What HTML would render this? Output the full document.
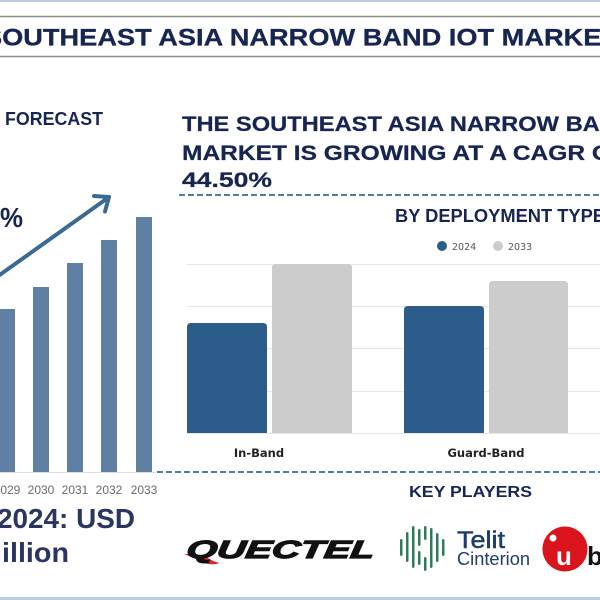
<!DOCTYPE html>
<html>
<head>
<meta charset="utf-8">
<style>
  html, body { margin:0; padding:0; background:#ffffff; }
  svg { display:block; }
</style>
</head>
<body>
<svg width="600" height="600" viewBox="0 0 600 600" xmlns="http://www.w3.org/2000/svg">
  <rect x="0" y="0" width="600" height="600" fill="#ffffff"/>
  <!-- top / bottom accent lines -->
  <rect x="0" y="0" width="600" height="2" fill="#b9cfe1"/>
  <rect x="0" y="597" width="600" height="3" fill="#b9cfe1"/>

  <!-- title box -->
  <line x1="0" y1="16.5" x2="600" y2="16.5" stroke="#8c8c8c" stroke-width="1.5"/>
  <line x1="0" y1="56.5" x2="600" y2="56.5" stroke="#8c8c8c" stroke-width="1.5"/>
  <text x="-16" y="45.5" font-family="Liberation Sans, sans-serif" font-weight="bold" font-size="24.5" fill="#172552" stroke="#172552" stroke-width="0.3" textLength="634" lengthAdjust="spacingAndGlyphs">SOUTHEAST ASIA NARROW BAND IOT MARKET</text>

  <!-- left section -->
  <text x="5" y="125" font-family="Liberation Sans, sans-serif" font-weight="bold" font-size="18" fill="#172552" textLength="98" lengthAdjust="spacingAndGlyphs">FORECAST</text>
  <text x="0" y="227" font-family="Liberation Sans, sans-serif" font-weight="bold" font-size="28" fill="#172552" textLength="23" lengthAdjust="spacingAndGlyphs">%</text>

  <!-- left bars -->
  <g fill="#5f7fa3">
    <rect x="-1" y="309" width="16" height="163"/>
    <rect x="33" y="287" width="16" height="185"/>
    <rect x="67" y="263" width="16" height="209"/>
    <rect x="101" y="240" width="16" height="232"/>
    <rect x="136" y="217" width="16" height="255"/>
  </g>
  <line x1="0" y1="472.5" x2="156" y2="472.5" stroke="#dddddd" stroke-width="1"/>

  <!-- arrow -->
  <g stroke="#3b6a93" stroke-width="4" fill="none" stroke-linecap="round" stroke-linejoin="round">
    <line x1="-6" y1="279" x2="107" y2="198.5"/>
    <polyline points="94,196 109,197 105,211.5"/>
  </g>

  <!-- year labels -->
  <g font-family="Liberation Sans, sans-serif" font-size="12" fill="#6b6b6b" text-anchor="middle">
    <text x="7" y="494">2029</text>
    <text x="41" y="494">2030</text>
    <text x="75" y="494">2031</text>
    <text x="109" y="494">2032</text>
    <text x="144" y="494">2033</text>
  </g>

  <text x="-3" y="528" font-family="Liberation Sans, sans-serif" font-weight="bold" font-size="28" fill="#2a3660" textLength="138" lengthAdjust="spacingAndGlyphs">2024: USD</text>
  <text x="2" y="562" font-family="Liberation Sans, sans-serif" font-weight="bold" font-size="28" fill="#2a3660" textLength="67" lengthAdjust="spacingAndGlyphs">illion</text>

  <!-- headline -->
  <g font-family="Liberation Sans, sans-serif" font-weight="bold" font-size="21" fill="#172552" stroke="#172552" stroke-width="0.25">
    <text x="182" y="131" textLength="498" lengthAdjust="spacingAndGlyphs">THE SOUTHEAST ASIA NARROW BAND IOT</text>
    <text x="182" y="160" textLength="444" lengthAdjust="spacingAndGlyphs">MARKET IS GROWING AT A CAGR OF</text>
    <text x="182" y="187" textLength="90" lengthAdjust="spacingAndGlyphs">44.50%</text>
  </g>

  <!-- dashed separators -->
  <line x1="179" y1="195" x2="600" y2="195" stroke="#4f7ea3" stroke-width="2" stroke-dasharray="6,3"/>
  <line x1="157" y1="472" x2="600" y2="472" stroke="#4f7ea3" stroke-width="2" stroke-dasharray="6,3"/>

  <!-- right chart -->
  <text x="395" y="222" font-family="Liberation Sans, sans-serif" font-weight="bold" font-size="18" fill="#172552" textLength="210" lengthAdjust="spacingAndGlyphs">BY DEPLOYMENT TYPE</text>

  <circle cx="442" cy="246" r="5" fill="#2c5d8a"/>
  <text x="452" y="250" font-family="DejaVu Sans, sans-serif" font-size="9.5" fill="#555555">2024</text>
  <circle cx="498" cy="246" r="5" fill="#cccccc"/>
  <text x="508" y="250" font-family="DejaVu Sans, sans-serif" font-size="9.5" fill="#555555">2033</text>

  <g stroke="#e6e6e6" stroke-width="1">
    <line x1="187" y1="264.5" x2="600" y2="264.5"/>
    <line x1="187" y1="306.5" x2="600" y2="306.5"/>
    <line x1="187" y1="348.5" x2="600" y2="348.5"/>
    <line x1="187" y1="391.5" x2="600" y2="391.5"/>
    <line x1="187" y1="433.5" x2="600" y2="433.5"/>
  </g>

  <path d="M187,433 V327 Q187,323 191,323 H263 Q267,323 267,327 V433 Z" fill="#2c5d8a"/>
  <path d="M272,433 V268 Q272,264 276,264 H348 Q352,264 352,268 V433 Z" fill="#cccccc"/>
  <path d="M404,433 V310 Q404,306 408,306 H480 Q484,306 484,310 V433 Z" fill="#2c5d8a"/>
  <path d="M489,433 V285 Q489,281 493,281 H564 Q568,281 568,285 V433 Z" fill="#cccccc"/>

  <g font-family="DejaVu Sans, sans-serif" font-weight="bold" font-size="11.5" fill="#222222" text-anchor="middle">
    <text x="259" y="457">In-Band</text>
    <text x="486" y="457">Guard-Band</text>
  </g>

  <!-- key players -->
  <text x="409" y="497" font-family="Liberation Sans, sans-serif" font-weight="bold" font-size="16" fill="#172552" textLength="123" lengthAdjust="spacingAndGlyphs">KEY PLAYERS</text>

  <!-- Quectel -->
  <path d="M184,554 Q198,553 208,558 Q214,562 220,563 Q210,566 202,562 Q194,558 184,554 Z" fill="#d62a2a"/>
  <text x="186" y="558" font-family="Liberation Sans, sans-serif" font-weight="bold" font-style="italic" font-size="25" fill="#111111" stroke="#111111" stroke-width="1.2" textLength="188" lengthAdjust="spacingAndGlyphs" transform="skewX(-8) translate(78,0)">QUECTEL</text>

  <!-- Telit logo bars -->
  <g fill="#2e7b5b">
    <rect x="400" y="539" width="2.5" height="17" rx="1.2"/>
    <rect x="406" y="532" width="2.5" height="30" rx="1.2"/>
    <rect x="412" y="526" width="2.5" height="42" rx="1.2"/>
    <rect x="418" y="529" width="2.5" height="17" rx="1.2"/>
    <rect x="418" y="551" width="2.5" height="14" rx="1.2"/>
    <rect x="424" y="526" width="2.5" height="14" rx="1.2"/>
    <rect x="424" y="557" width="2.5" height="14" rx="1.2"/>
    <rect x="430" y="528" width="2.5" height="40" rx="1.2"/>
    <rect x="436" y="533" width="2.5" height="29" rx="1.2"/>
    <rect x="442" y="539" width="2.5" height="17" rx="1.2"/>
  </g>
  <text x="457" y="548" font-family="Liberation Sans, sans-serif" font-size="24" fill="#1e3d6e" stroke="#1e3d6e" stroke-width="0.5" textLength="48" lengthAdjust="spacingAndGlyphs">Telit</text>
  <text x="457" y="565" font-family="Liberation Sans, sans-serif" font-size="18" fill="#1e3d6e" textLength="73" lengthAdjust="spacingAndGlyphs">Cinterion</text>

  <!-- u-blox -->
  <circle cx="565" cy="549" r="22.5" fill="#d9141c"/>
  <circle cx="553" cy="538" r="3.5" fill="#ffffff"/>
  <text x="556" y="565" font-family="Liberation Sans, sans-serif" font-weight="bold" font-size="26" fill="#ffffff">u</text>
  <text x="587" y="565" font-family="Liberation Sans, sans-serif" font-weight="bold" font-size="26" fill="#111111">b</text>
</svg>
</body>
</html>
